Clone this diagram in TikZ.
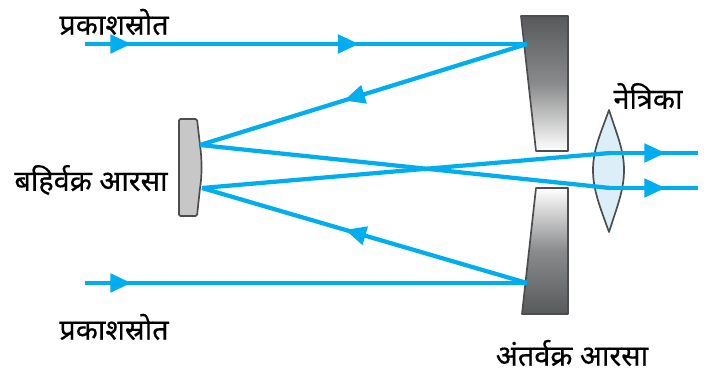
\documentclass[tikz,border=0pt]{standalone}
\usepackage{fontspec}
\newfontfamily\hindifont[Script=Devanagari, FakeBold=0.4]{Noto Sans}
\usepackage{xcolor}
\usetikzlibrary{arrows.meta, decorations.markings}
\definecolor{raycol}{HTML}{00AEEF}
\definecolor{mirrorcol}{HTML}{58595B}
\definecolor{edgecol}{HTML}{4D4D4F}
\definecolor{lenscol}{HTML}{DCEEF8}
\tikzset{
    ray/.style={draw=raycol, line width=3pt},
    tipat/.style={postaction={decorate, decoration={markings,
        mark=at position #1 with {\arrow{Triangle[length=15pt, width=13pt]}}}}},
    mirror/.style={draw=edgecol, line width=1.2pt, line join=round},
    lbl/.style={font=\hindifont\fontsize{20.5}{24}\selectfont, text=black, inner sep=0pt}
}
\begin{document}
\begin{tikzpicture}[x=0.025cm, y=-0.025cm]
    \useasboundingbox (0,0) rectangle (714,372);
    % mirrors
    \draw[mirror, top color=mirrorcol, bottom color=white, middle color=mirrorcol!70!white]
        (521,16) -- (568,16) -- (568,151) -- (536,151) -- cycle;
    \draw[mirror, top color=white, bottom color=mirrorcol, middle color=mirrorcol!70!white]
        (536,188) -- (568,188) -- (568,314) -- (522,314) -- cycle;
    \draw[mirror, fill=black!22, rounded corners=1pt]
        (179,119) -- (197,119) -- (200,145) .. controls (202,160) and (202,175) .. (200,188)
        -- (197,216) -- (179,216) -- cycle;
    % lens
    \draw[mirror, fill=lenscol] (609,110) .. controls (600,135) and (593,150) .. (593,170)
        .. controls (593,190) and (600,207) .. (609,232)
        .. controls (617,207) and (624,190) .. (624,170)
        .. controls (624,150) and (617,135) .. (609,110) -- cycle;
    % ray points
    \coordinate (topin) at (85,44);
    \coordinate (bottomin) at (85,283);
    \coordinate (topm) at (527,44);
    \coordinate (bottomm) at (527,283);
    \coordinate (secup) at (200,145);
    \coordinate (secdown) at (202,188);
    \coordinate (lensup) at (610,153);
    \coordinate (lensdown) at (610,188);
    \coordinate (outup) at (698,153);
    \coordinate (outdown) at (698,188);
    % rays
    \draw[ray, tipat=0.105, tipat=0.62] (topin) -- (topm);
    \draw[ray, tipat=0.105] (bottomin) -- (bottomm);
    \draw[ray, tipat=0.56] (topm) -- (secup);
    \draw[ray, tipat=0.56] (bottomm) -- (secdown);
    \draw[ray] (secup) -- (lensdown);
    \draw[ray] (secdown) -- (lensup);
    \draw[ray, tipat=0.63] (lensup) -- (outup);
    \draw[ray, tipat=0.63] (lensdown) -- (outdown);
    % labels
    \node[lbl] (srctop) at (114,22) {प्रकाशस्रोत};
    \node[lbl] (srcbottom) at (114,327) {प्रकाशस्रोत};
    \node[lbl] (convex) at (91,180) {बहिर्वक्र आरसा};
    \node[lbl] (concave) at (572,353) {अंतर्वक्र आरसा};
    \node[lbl] (eyepiece) at (648,96) {नेत्रिका};
\end{tikzpicture}
\end{document}
